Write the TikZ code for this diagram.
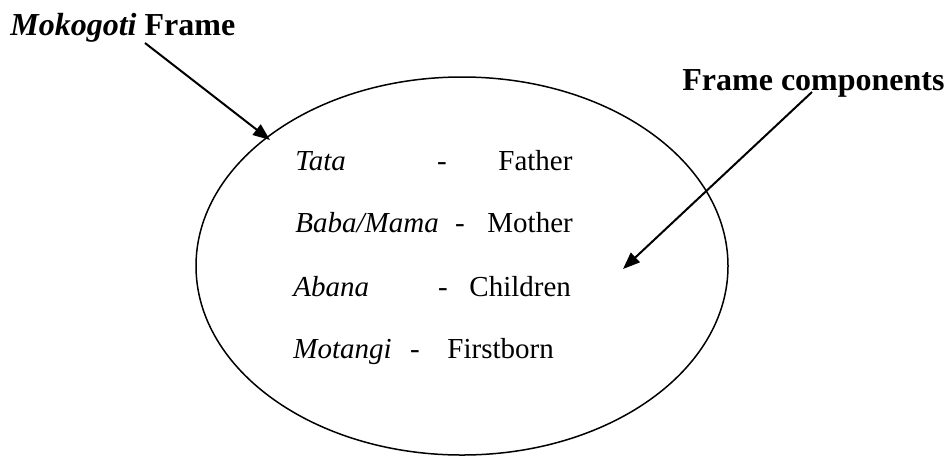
\documentclass[tikz,border=0pt]{standalone}
\usepackage{fontspec}
\setmainfont{Liberation Serif}
\usetikzlibrary{arrows.meta,shapes.geometric}
\begin{document}
\begin{tikzpicture}[x=0.5pt,y=-0.5pt,
  heading/.style={anchor=base west,inner sep=0pt,font=\fontsize{16}{19}\selectfont\bfseries},
  term/.style={anchor=base west,inner sep=0pt,font=\fontsize{14.5}{17}\selectfont\itshape},
  sep/.style={anchor=base,inner sep=0pt,font=\fontsize{14.5}{17}\selectfont},
  gloss/.style={anchor=base west,inner sep=0pt,font=\fontsize{14.5}{17}\selectfont},
  pointer/.style={line width=1pt,-{Triangle[length=8.5pt,width=6.5pt]}}]
\useasboundingbox (0,0) rectangle (946,456);

% the frame itself
\node[draw,ellipse,line width=0.75pt,inner sep=0pt,
      minimum width=266pt,minimum height=189pt] (frame) at (462,266) {};

% headings
\node[heading] (title) at (10,35) {\textit{Mokogoti} Frame};
\node[heading] (comp) at (682,90) {Frame components};

% frame contents
\node[term]  (t1) at (295,170) {Tata};
\node[sep]   (d1) at (442,170) {-};
\node[gloss] (g1) at (498,170) {Father};

\node[term]  (t2) at (295,232) {Baba/Mama};
\node[sep]   (d2) at (460,232) {-};
\node[gloss] (g2) at (487,232) {Mother};

\node[term]  (t3) at (293,296) {Abana};
\node[sep]   (d3) at (443,296) {-};
\node[gloss] (g3) at (469,296) {Children};

\node[term]  (t4) at (293,358) {Motangi};
\node[sep]   (d4) at (415,358) {-};
\node[gloss] (g4) at (447,358) {Firstborn};

% arrow end points
\coordinate (titleout) at (145,43);
\coordinate (frameedge) at (270,140);
\coordinate (compout) at (812,92);
\coordinate (frameinner) at (623,269);

\draw[pointer] (titleout) -- (frameedge);
\draw[pointer] (compout) -- (frameinner);
\end{tikzpicture}
\end{document}
